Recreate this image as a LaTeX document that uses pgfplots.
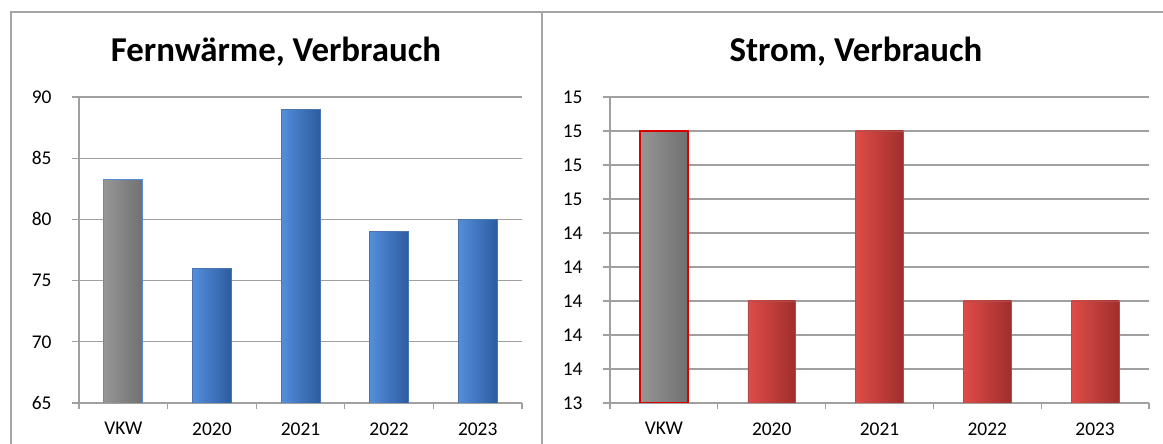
\documentclass[border=0pt]{standalone}
\usepackage{fontspec}
\setmainfont{Carlito}
\usepackage{pgfplots}
\pgfplotsset{compat=1.18}

\definecolor{gridgray}{RGB}{160,160,160}
\definecolor{framegray}{RGB}{165,165,165}
\definecolor{blueL}{RGB}{84,142,218}
\definecolor{blueM}{RGB}{62,122,200}
\definecolor{blueR}{RGB}{44,92,160}
\definecolor{redL}{RGB}{222,76,72}
\definecolor{redM}{RGB}{200,60,58}
\definecolor{redR}{RGB}{160,46,44}
\definecolor{grayL}{RGB}{150,150,150}
\definecolor{grayM}{RGB}{134,134,134}
\definecolor{grayR}{RGB}{112,112,112}

\pgfplotsset{
  panel/.style={
    scale only axis, height=306bp,
    ybar, bar shift=0pt, bar width=0.44,
    xmin=-0.5, xmax=4.5,
    xtick={0,...,4}, xticklabels={VKW,2020,2021,2022,2023},
    major x tick style={draw=none},
    minor xtick={-0.5,0.5,...,4.5},
    axis lines*=left, axis line style={-, gridgray, line width=1.3bp},
    ymajorgrids, grid style={gridgray, line width=1.3bp},
    tick align=outside, major tick length=7bp, minor tick length=6bp,
    tick style={gridgray, line width=1.3bp},
    ticklabel style={font=\fontsize{19.5}{22}\selectfont},
    xticklabel style={yshift=-9bp},
    yticklabel style={xshift=-17bp},
  },
  bluebar/.style={draw=blueR!85, line width=0.6bp, left color=blueL, middle color=blueM, right color=blueR},
  redbar/.style={draw=redR!85, line width=0.6bp, left color=redL, middle color=redM, right color=redR},
}

\begin{document}
\begin{tikzpicture}
\useasboundingbox (0,0) rectangle (1163bp,444bp);
\draw[framegray, line width=1.5bp] (11bp,0) -- (11bp,432bp) -- (1163bp,432bp);
\draw[framegray, line width=1.5bp] (542bp,432bp) -- (542bp,0);

% Fernwaerme
\begin{axis}[panel, at={(79bp,41bp)}, anchor=south west, width=443bp,
    ymin=65, ymax=90, ytick={65,70,75,80,85,90},
    yticklabels={65,70,75,80,85,90}]
  \addplot[draw=blueL, line width=1bp, left color=grayL, middle color=grayM, right color=grayR]
    coordinates {(0,83.3)};
  \addplot[bluebar] coordinates {(1,76)};
  \addplot[bluebar] coordinates {(2,89)};
  \addplot[bluebar] coordinates {(3,79)};
  \addplot[bluebar] coordinates {(4,80)};
\end{axis}

% Strom
\begin{axis}[panel, at={(610bp,41bp)}, anchor=south west, width=539bp,
    ymin=13.4, ymax=15.2,
    ytick={13.4,13.6,13.8,14.0,14.2,14.4,14.6,14.8,15.0,15.2},
    yticklabels={13,14,14,14,14,14,15,15,15,15}]
  \addplot[draw=red!85!black, line width=2bp, left color=grayL, middle color=grayM, right color=grayR]
    coordinates {(0,15.0)};
  \addplot[redbar] coordinates {(1,14.0)};
  \addplot[redbar] coordinates {(2,15.0)};
  \addplot[redbar] coordinates {(3,14.0)};
  \addplot[redbar] coordinates {(4,14.0)};
\end{axis}

\node[font=\fontsize{35}{40}\selectfont\bfseries] at (276bp,392bp) {Fernwärme, Verbrauch};
\node[font=\fontsize{35}{40}\selectfont\bfseries] at (856bp,392bp) {Strom, Verbrauch};
\end{tikzpicture}
\end{document}
